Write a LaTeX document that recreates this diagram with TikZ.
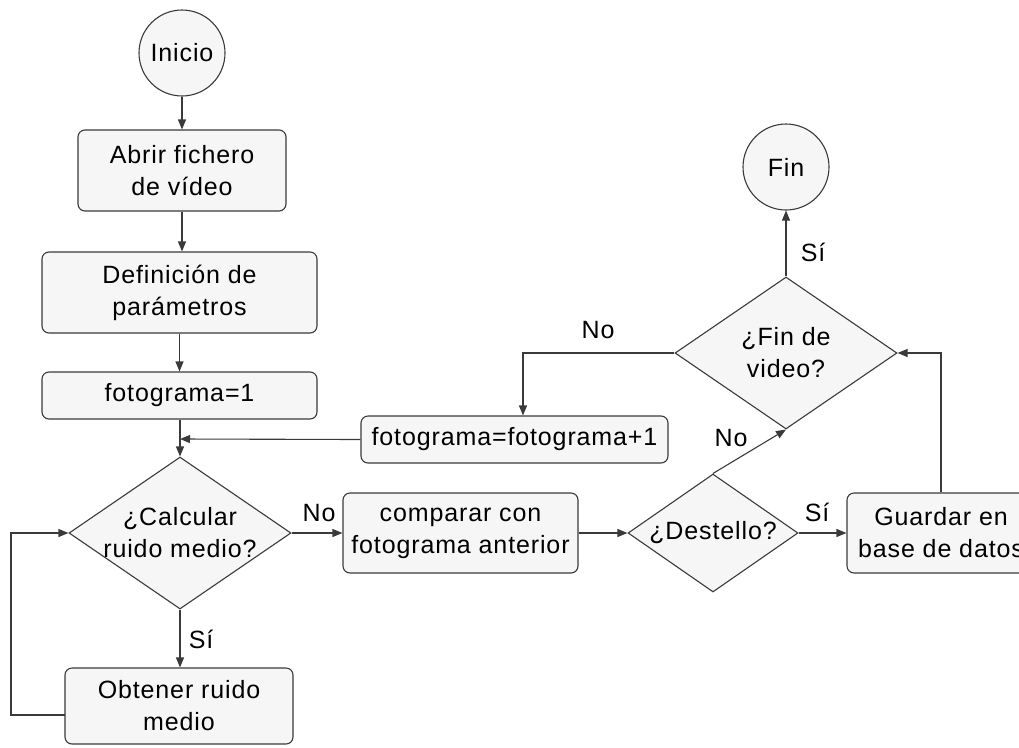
\documentclass[tikz,border=0pt]{standalone}
\usepackage{fontspec}
\setmainfont{Liberation Sans}[LetterSpace=3.5]
\usetikzlibrary{shapes.geometric,arrows.meta}
\definecolor{linec}{HTML}{3A3A3A}
\definecolor{fillc}{HTML}{F6F6F6}
\newcommand{\fcfont}{\fontsize{25}{32}\selectfont}
\begin{document}
\begin{tikzpicture}[x=1pt,y=-1pt,
  box/.style={draw=linec, fill=fillc, rounded corners=7pt, line width=1.1pt, inner sep=0pt, align=center, font=\fcfont},
  circ/.style={circle, draw=linec, fill=fillc, line width=1.1pt, minimum size=86pt, inner sep=0pt, font=\fcfont},
  dia/.style={diamond, draw=linec, fill=fillc, line width=1.1pt, inner sep=0pt},
  dtxt/.style={align=center, font=\fcfont, inner sep=0pt},
  conn/.style={draw=linec, line width=1.1pt, -{Triangle[length=10pt,width=8pt]}},
  lbl/.style={font=\fcfont, inner sep=0pt}]
\useasboundingbox (0,0) rectangle (1019,747);
\clip (0,0) rectangle (1019,747);
% nodes
\node[circ] (ini) at (182,53) {Inicio};
\node[box, minimum width=208pt, minimum height=81pt] (abr) at (182,170.5) {Abrir fichero\\de vídeo};
\node[box, minimum width=275pt, minimum height=81pt] (def) at (179.5,292.5) {Definición de\\parámetros};
\node[box, minimum width=275pt, minimum height=47pt] (fo1) at (179.5,395.5) {fotograma=1};
\node[dia, minimum width=222pt, minimum height=152pt, label={[dtxt]center:{¿Calcular\\ruido medio?}}] (cal) at (180,533) {};
\node[box, minimum width=228pt, minimum height=76pt] (obt) at (179,706) {Obtener ruido\\medio};
\node[box, minimum width=235pt, minimum height=80pt] (com) at (460.5,533) {comparar con\\fotograma anterior};
\node[box, minimum width=307pt, minimum height=47pt] (fo2) at (514.5,439.5) {fotograma=fotograma+1};
\node[dia, minimum width=170pt, minimum height=118pt, label={[dtxt]center:{¿Destello?}}] (des) at (713,533) {};
\node[box, minimum width=188pt, minimum height=80pt] (gua) at (941,533) {Guardar en\\base de datos};
\node[dia, minimum width=222pt, minimum height=152pt, label={[dtxt]center:{¿Fin de\\video?}}] (fvd) at (786,353) {};
\node[circ] (fin) at (786,167) {Fin};
% labels
\node[lbl] (l1) at (319,513) {No};
\node[lbl] (l2) at (201,639) {Sí};
\node[lbl] (l3) at (598,330) {No};
\node[lbl] (l4) at (813,252) {Sí};
\node[lbl] (l5) at (731,438) {No};
\node[lbl] (l6) at (817,512) {Sí};
% helper coordinates
\coordinate (obl) at (65,715);
\coordinate (lx) at (11,715);
\coordinate (merge) at (180,439);
% connectors
\draw[conn] (ini.south) -- (abr.north);
\draw[conn] (abr.south) -- (abr.south |- def.north);
\draw[conn] (def.south) -- (def.south |- fo1.north);
\draw[conn] (fo1.south -| cal.north) -- (cal.north);
\draw[conn] (fo2.west) -- (merge);
\draw[conn] (cal.south) -- (cal.south |- obt.north);
\draw[conn] (obl) -- (lx) |- (cal.west);
\draw[conn] (cal.east) -- (com.west);
\draw[conn] (com.east) -- (des.west);
\draw[conn] (des.east) -- (gua.west);
\draw[conn] (des.north) -- (fvd.south);
\draw[conn] (gua.north) |- (fvd.east);
\draw[conn] (fvd.west) -| (523,0 |- fo2.north);
\draw[conn] (fvd.north) -- (fin.south);
\end{tikzpicture}
\end{document}
